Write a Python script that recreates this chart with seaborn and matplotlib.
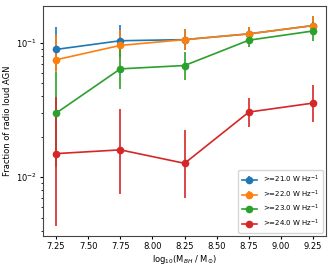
import matplotlib
matplotlib.use("Agg")
import matplotlib.pyplot as plt
import seaborn as sns
import pandas as pd

# black hole mass bins
mass_bins = [7.25, 7.75, 8.25, 8.75, 9.25]

# fraction of radio loud AGN above each luminosity cut
frac_21 = [0.0896, 0.104, 0.106, 0.117, 0.135]
frac_22 = [0.075, 0.096, 0.106, 0.117, 0.135]
frac_23 = [0.030, 0.0642, 0.068, 0.105, 0.123]
frac_24 = [0.015, 0.016, 0.0127, 0.0306, 0.0357]

# error bar limits (lower, upper)
lo_21 = [0.062, 0.080, 0.088, 0.106, 0.118]
hi_21 = [0.132, 0.136, 0.128, 0.132, 0.158]
lo_22 = [0.0606, 0.078, 0.088, 0.106, 0.118]
hi_22 = [0.114, 0.126, 0.128, 0.132, 0.158]
lo_23 = [0.012, 0.0455, 0.053, 0.093, 0.104]
hi_23 = [0.0606, 0.090, 0.0856, 0.117, 0.144]
lo_24 = [0.00436, 0.0075, 0.0070, 0.0238, 0.0256]
hi_24 = [0.0398, 0.032, 0.0225, 0.0389, 0.049]

labels = [r">=21.0 W Hz$^{-1}$", r">=22.0 W Hz$^{-1}$",
          r">=23.0 W Hz$^{-1}$", r">=24.0 W Hz$^{-1}$"]

series = [(frac_21, lo_21, hi_21), (frac_22, lo_22, hi_22),
          (frac_23, lo_23, hi_23), (frac_24, lo_24, hi_24)]

plt.rcParams["font.size"] = 6
plt.rcParams["xtick.major.size"] = 2.5
plt.rcParams["ytick.major.size"] = 2.5
plt.rcParams["ytick.minor.size"] = 1.5
plt.rcParams["xtick.major.pad"] = 2
plt.rcParams["ytick.major.pad"] = 2
plt.rcParams["axes.edgecolor"] = "#444444"
colors = sns.color_palette("tab10", 4)

fig, ax = plt.subplots(figsize=(3.32, 2.68), dpi=100)
fig.subplots_adjust(left=0.13, right=0.982, bottom=0.119, top=0.978)

for (y, lo, hi), lab, c in zip(series, labels, colors):
    df = pd.DataFrame({"x": mass_bins, "y": y, "lo": lo, "hi": hi})
    err = [df["y"] - df["lo"], df["hi"] - df["y"]]
    ax.errorbar(df["x"], df["y"], yerr=err, fmt="o-", color=c,
                markersize=4.5, linewidth=1.2, elinewidth=1.2, label=lab)

ax.set_yscale("log")
ax.set_xticks([7.25, 7.5, 7.75, 8.0, 8.25, 8.5, 8.75, 9.0, 9.25])
ax.set_xticklabels(["7.25", "7.50", "7.75", "8.00", "8.25", "8.50", "8.75", "9.00", "9.25"])
ax.set_xlabel(r"log$_{10}$(M$_{BH}$ / M$_{\odot}$)", labelpad=1.5)
ax.set_ylabel("Fraction of radio loud AGN", labelpad=3)
ax.legend(loc="lower right", fontsize=5, labelspacing=0.5,
          handlelength=2.2, borderpad=0.5, framealpha=0.8)

fig.savefig("out.png", dpi=100)
